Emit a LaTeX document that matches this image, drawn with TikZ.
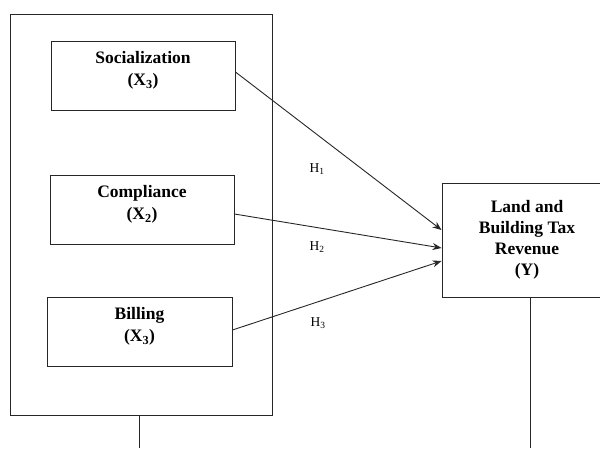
\documentclass[tikz,border=0pt]{standalone}
\usepackage{fontspec}
\setmainfont{Liberation Serif}
\usetikzlibrary{calc,arrows.meta}
\begin{document}
\begin{tikzpicture}[x=1pt,y=-1pt,
  frame/.style={draw=black!85,line width=0.9pt},
  varbox/.style={frame,minimum width=184pt,minimum height=69pt,inner sep=0pt},
  vartext/.style={align=center,inner sep=0pt,font=\fontsize{17.5}{22}\selectfont\bfseries},
  conn/.style={draw=black!85,line width=0.9pt,-{Stealth[length=9pt,width=7pt]}},
  hlab/.style={font=\fontsize{13.5}{15}\selectfont,inner sep=0pt}]
\clip (0,0) rectangle (600,448);
\useasboundingbox (0,0) rectangle (600,448);
\node[frame,minimum width=262pt,minimum height=401pt,inner sep=0pt] (outer) at (141,214.5) {};
\node[varbox] (soc) at (143,75.5) {};
\node[vartext] (soct) at (143,70.5) {Socialization\\(X\textsubscript{3})};
\node[varbox] (com) at (142,210) {};
\node[vartext] (comt) at (142,204.5) {Compliance\\(X\textsubscript{2})};
\node[varbox,minimum width=185pt] (bil) at (139.5,332) {};
\node[vartext] (bilt) at (139.5,326.5) {Billing\\(X\textsubscript{3})};
\node[frame,minimum width=170pt,minimum height=114pt,inner sep=0pt,align=center,
  font=\fontsize{17.5}{21}\selectfont\bfseries] (y) at (527,240) {Land and\\Building Tax\\Revenue\\(Y)};
\coordinate (e1) at (139,448);
\coordinate (e2) at (530,448);
\draw[frame] (outer.south -| e1) -- (e1);
\draw[frame] (y.south -| e2) -- (e2);
\draw[conn] ($(soc.east)+(0,-3.5)$) -- ($(y.west)+(0,-10)$);
\draw[conn] ($(com.east)+(0,4)$) -- ($(y.west)+(0,8)$);
\draw[conn] ($(bil.east)+(0,-2)$) -- ($(y.west)+(0,21)$);
\node[hlab] (h1) at (317,169) {H\textsubscript{1}};
\node[hlab] (h2) at (317,247) {H\textsubscript{2}};
\node[hlab] (h3) at (318,323) {H\textsubscript{3}};
\end{tikzpicture}
\end{document}
